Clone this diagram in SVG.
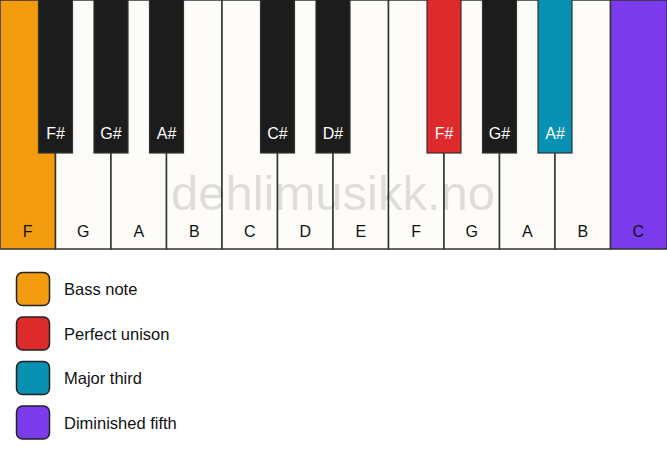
<svg xmlns="http://www.w3.org/2000/svg" width="667" height="461" viewBox="0 0 667 461">
<style>
.wk{fill:#FDFCF8;stroke:#333;stroke-width:1.5}
.bk{fill:#1C1C1C;stroke:#333;stroke-width:1.2}
.lbl{font-family:"Liberation Sans",Arial,sans-serif;font-size:16px;text-anchor:middle}
.wl{fill:#111}
.bl{fill:#fff}
.bass{fill:#F39C0F}
.uni{fill:#DD2A2A}
.third{fill:#0891B2}
.fifth{fill:#7C3AED}
.lg{stroke:#222;stroke-width:1.5}
.lt{font-family:"Liberation Sans",Arial,sans-serif;font-size:16.5px;fill:#111}
.wm{font-family:"Liberation Sans",Arial,sans-serif;font-size:49px;fill:#000;fill-opacity:0.12;text-anchor:middle}
</style>
<rect width="667" height="461" fill="#fff"/>
<g id="white-keys">
<g id="key-F1"><rect class="wk bass" x="0" y="0" width="55.5" height="249"/><text class="lbl wl" x="27.75" y="236.5">F</text></g>
<g id="key-G1"><rect class="wk" x="55.5" y="0" width="55.5" height="249"/><text class="lbl wl" x="83.25" y="236.5">G</text></g>
<g id="key-A1"><rect class="wk" x="111" y="0" width="55.5" height="249"/><text class="lbl wl" x="138.75" y="236.5">A</text></g>
<g id="key-B1"><rect class="wk" x="166.5" y="0" width="55.5" height="249"/><text class="lbl wl" x="194.25" y="236.5">B</text></g>
<g id="key-C1"><rect class="wk" x="222" y="0" width="55.5" height="249"/><text class="lbl wl" x="249.75" y="236.5">C</text></g>
<g id="key-D1"><rect class="wk" x="277.5" y="0" width="55.5" height="249"/><text class="lbl wl" x="305.25" y="236.5">D</text></g>
<g id="key-E1"><rect class="wk" x="333" y="0" width="55.5" height="249"/><text class="lbl wl" x="360.75" y="236.5">E</text></g>
<g id="key-F2"><rect class="wk" x="388.5" y="0" width="55.5" height="249"/><text class="lbl wl" x="416.25" y="236.5">F</text></g>
<g id="key-G2"><rect class="wk" x="444" y="0" width="55.5" height="249"/><text class="lbl wl" x="471.75" y="236.5">G</text></g>
<g id="key-A2"><rect class="wk" x="499.5" y="0" width="55.5" height="249"/><text class="lbl wl" x="527.25" y="236.5">A</text></g>
<g id="key-B2"><rect class="wk" x="555" y="0" width="55.5" height="249"/><text class="lbl wl" x="582.75" y="236.5">B</text></g>
<g id="key-C2"><rect class="wk fifth" x="610.5" y="0" width="56.5" height="249"/><text class="lbl wl" x="638.25" y="236.5">C</text></g>
</g>
<text class="wm" x="333" y="210">dehlimusikk.no</text>
<g id="black-keys">
<g id="key-Fs1"><rect class="bk" x="38.5" y="-1" width="34" height="154"/><text class="lbl bl" x="55.5" y="138.5">F#</text></g>
<g id="key-Gs1"><rect class="bk" x="94" y="-1" width="34" height="154"/><text class="lbl bl" x="111" y="138.5">G#</text></g>
<g id="key-As1"><rect class="bk" x="149.5" y="-1" width="34" height="154"/><text class="lbl bl" x="166.5" y="138.5">A#</text></g>
<g id="key-Cs1"><rect class="bk" x="260.5" y="-1" width="34" height="154"/><text class="lbl bl" x="277.5" y="138.5">C#</text></g>
<g id="key-Ds1"><rect class="bk" x="316" y="-1" width="34" height="154"/><text class="lbl bl" x="333" y="138.5">D#</text></g>
<g id="key-Fs2"><rect class="bk uni" x="427" y="-1" width="34" height="154"/><text class="lbl bl" x="444" y="138.5">F#</text></g>
<g id="key-Gs2"><rect class="bk" x="482.5" y="-1" width="34" height="154"/><text class="lbl bl" x="499.5" y="138.5">G#</text></g>
<g id="key-As2"><rect class="bk third" x="538" y="-1" width="34" height="154"/><text class="lbl bl" x="555" y="138.5">A#</text></g>
</g>
<g id="connectors"></g>
<g id="legend">
<g id="legend-bass"><rect class="lg bass" x="16.5" y="272.5" width="33" height="33" rx="6"/><text class="lt" x="64" y="295">Bass note</text></g>
<g id="legend-unison"><rect class="lg uni" x="16.5" y="317" width="33" height="33" rx="6"/><text class="lt" x="64" y="339.5">Perfect unison</text></g>
<g id="legend-third"><rect class="lg third" x="16.5" y="361.5" width="33" height="33" rx="6"/><text class="lt" x="64" y="384">Major third</text></g>
<g id="legend-fifth"><rect class="lg fifth" x="16.5" y="406" width="33" height="33" rx="6"/><text class="lt" x="64" y="428.5">Diminished fifth</text></g>
</g>
</svg>
